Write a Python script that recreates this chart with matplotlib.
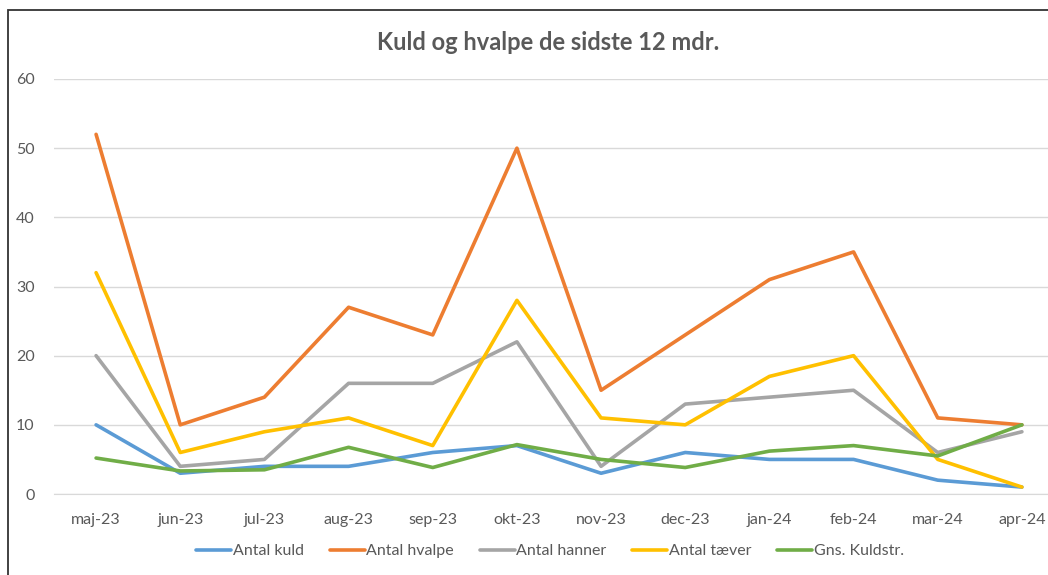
import matplotlib
matplotlib.use("Agg")
import matplotlib.pyplot as plt
from matplotlib.patches import Rectangle

months = ["maj-23", "jun-23", "jul-23", "aug-23", "sep-23", "okt-23",
          "nov-23", "dec-23", "jan-24", "feb-24", "mar-24", "apr-24"]
antal_kuld = [10, 3, 4, 4, 6, 7, 3, 6, 5, 5, 2, 1]
antal_hvalpe = [52, 10, 14, 27, 23, 50, 15, 23, 31, 35, 11, 10]
antal_hanner = [20, 4, 5, 16, 16, 22, 4, 13, 14, 15, 6, 9]
antal_taever = [32, 6, 9, 11, 7, 28, 11, 10, 17, 20, 5, 1]
gns_kuldstr = [5.2, 3.33, 3.5, 6.75, 3.83, 7.14, 5.0, 3.83, 6.2, 7.0, 5.5, 10.0]

series = [
    ("Antal kuld", antal_kuld, "#5B9BD5"),
    ("Antal hvalpe", antal_hvalpe, "#ED7D31"),
    ("Antal hanner", antal_hanner, "#A5A5A5"),
    ("Antal tæver", antal_taever, "#FFC000"),
    ("Gns. Kuldstr.", gns_kuldstr, "#70AD47"),
]

plt.rcParams['font.family'] = ['Lato', 'DejaVu Sans']
W, H = 1048, 575
fig = plt.figure(figsize=(W / 100, H / 100), dpi=100)
ax = fig.add_axes([54 / W, (H - 494) / H, 1010 / W, (494 - 79) / H])

x = list(range(len(months)))
for name, vals, col in series:
    ax.plot(x, vals, color=col, lw=2.6, label=name, solid_joinstyle='round',
            solid_capstyle='round')

ax.set_xlim(-0.5, 11.5)
ax.set_ylim(0, 60)
ax.set_yticks(range(0, 61, 10))
ax.set_xticks(x)
ax.set_xticklabels(months)
ax.grid(axis='y', color='#D9D9D9', lw=1)
ax.set_axisbelow(True)
for s in ['top', 'right', 'left']:
    ax.spines[s].set_visible(False)
ax.spines['bottom'].set_color('#D9D9D9')
ax.tick_params(axis='both', length=0, colors='#595959', labelsize=11.5)
ax.tick_params(axis='x', pad=14)
ax.tick_params(axis='y', pad=14)

fig.text(548 / W, 1 - 42 / H, "Kuld og hvalpe de sidste 12 mdr.", ha='center',
         va='center', fontsize=17, fontweight='bold', color='#595959')

leg = fig.legend(loc='center', bbox_to_anchor=(550 / W, 1 - 551 / H), ncol=5,
                 frameon=False, fontsize=11.5, handlelength=2.2, handletextpad=0.1,
                 columnspacing=1.6)
for t in leg.get_texts():
    t.set_color('#595959')

fig.patches.append(Rectangle((8 / W, -0.1), 1.2, 1 - 10 / H + 0.1,
                             transform=fig.transFigure, fill=False,
                             edgecolor='#333333', lw=1.3))

fig.savefig("out.png", dpi=100, facecolor='white')
